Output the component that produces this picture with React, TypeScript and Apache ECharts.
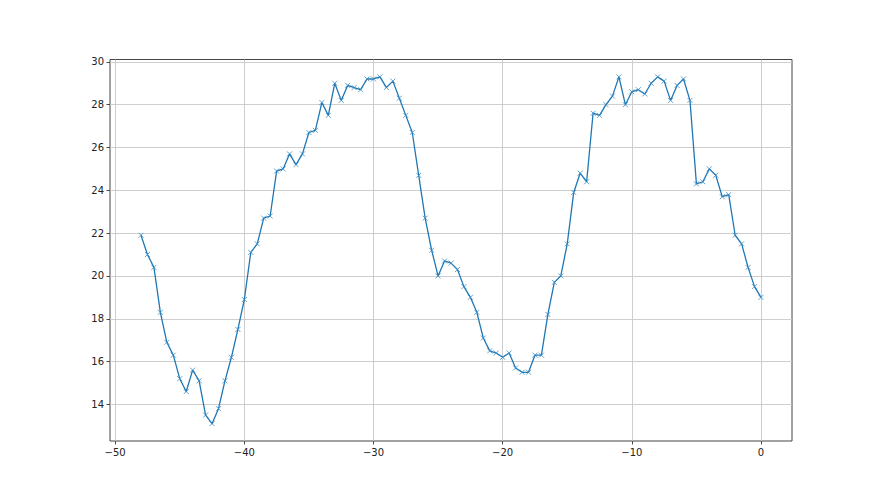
import React, { useEffect, useRef } from "react";
import * as echarts from "echarts";

const xValues: number[] = [
  -48, -47.5, -47, -46.5, -46, -45.5, -45, -44.5, -44, -43.5, -43, -42.5, -42, -41.5, -41, -40.5,
  -40, -39.5, -39, -38.5, -38, -37.5, -37, -36.5, -36, -35.5, -35, -34.5, -34, -33.5, -33, -32.5,
  -32, -31.5, -31, -30.5, -30, -29.5, -29, -28.5, -28, -27.5, -27, -26.5, -26, -25.5, -25, -24.5,
  -24, -23.5, -23, -22.5, -22, -21.5, -21, -20.5, -20, -19.5, -19, -18.5, -18, -17.5, -17, -16.5,
  -16, -15.5, -15, -14.5, -14, -13.5, -13, -12.5, -12, -11.5, -11, -10.5, -10, -9.5, -9, -8.5,
  -8, -7.5, -7, -6.5, -6, -5.5, -5, -4.5, -4, -3.5, -3, -2.5, -2, -1.5, -1, -0.5, 0,
];

const yValues: number[] = [
  21.9, 21.0, 20.4, 18.3, 16.9, 16.3, 15.2, 14.6, 15.6, 15.1, 13.5, 13.1, 13.8, 15.1, 16.2, 17.5,
  18.9, 21.1, 21.5, 22.7, 22.8, 24.9, 25.0, 25.7, 25.2, 25.7, 26.7, 26.8, 28.1, 27.5, 29.0, 28.2,
  28.9, 28.8, 28.7, 29.2, 29.2, 29.3, 28.8, 29.1, 28.3, 27.5, 26.7, 24.7, 22.7, 21.2, 20.0, 20.7,
  20.6, 20.3, 19.5, 19.0, 18.3, 17.1, 16.5, 16.4, 16.2, 16.4, 15.7, 15.5, 15.5, 16.3, 16.3, 18.2,
  19.7, 20.0, 21.5, 23.9, 24.8, 24.4, 27.6, 27.5, 28.0, 28.4, 29.3, 28.0, 28.6, 28.7, 28.5, 29.0,
  29.3, 29.1, 28.2, 28.9, 29.2, 28.2, 24.3, 24.4, 25.0, 24.7, 23.7, 23.8, 21.9, 21.5, 20.4, 19.5, 19.0,
];

const xTicks: number[] = [-50, -40, -30, -20, -10, 0];
const yTicks: number[] = [14, 16, 18, 20, 22, 24, 26, 28, 30];

const fmt = (v: number) => String(v).replace("-", "\u2212");

export default function App() {
  const ref = useRef<HTMLDivElement>(null);
  useEffect(() => {
    if (!ref.current) return;
    const chart = echarts.init(ref.current, null, { renderer: "svg" });
    const xMin = Math.min(...xValues);
    const xMax = Math.max(...xValues);
    const yMin = Math.min(...yValues);
    const yMax = Math.max(...yValues);
    const xPad = (xMax - xMin) * 0.05;
    const yPad = (yMax - yMin) * 0.05;
    const tick = { show: true, length: 3.5, inside: false, lineStyle: { color: "#222", width: 0.8 } };
    const split = { show: true, lineStyle: { color: "#c8c8c8", width: 0.9 } };
    const label = {
      color: "#222",
      fontFamily: "DejaVu Sans",
      fontSize: 10,
      margin: 6,
      formatter: (v: number) => fmt(v),
    };
    chart.setOption({
      animation: false,
      backgroundColor: "#fff",
      grid: {
        left: 110,
        right: 88,
        top: 59.5,
        bottom: 54,
        show: true,
        borderColor: "#444",
        borderWidth: 1,
        containLabel: false,
      },
      xAxis: {
        type: "value",
        min: xMin - xPad,
        max: xMax + xPad,
        axisLine: { show: false, onZero: false },
        axisTick: { ...tick, customValues: xTicks },
        splitLine: split,
        axisLabel: { ...label, customValues: xTicks },
      },
      yAxis: {
        type: "value",
        min: yMin - yPad,
        max: yMax + yPad,
        axisLine: { show: false, onZero: false },
        axisTick: { ...tick, customValues: yTicks },
        splitLine: split,
        axisLabel: { ...label, customValues: yTicks },
      },
      series: [
        {
          type: "line",
          data: xValues.map((x, i) => [x, yValues[i]]),
          lineStyle: { color: "#1f77b4", width: 1.3 },
          symbol: "path://M0,0L10,10M10,0L0,10",
          symbolSize: 5,
          showSymbol: true,
          itemStyle: { color: "#1f77b4", borderColor: "#3a8ac4", borderWidth: 0.8 },
        },
      ],
    });
    return () => chart.dispose();
  }, []);
  return (
    <div
      ref={ref}
      style={{ position: "fixed", left: 0, top: 0, width: 880, height: 495, background: "#fff" }}
    />
  );
}
